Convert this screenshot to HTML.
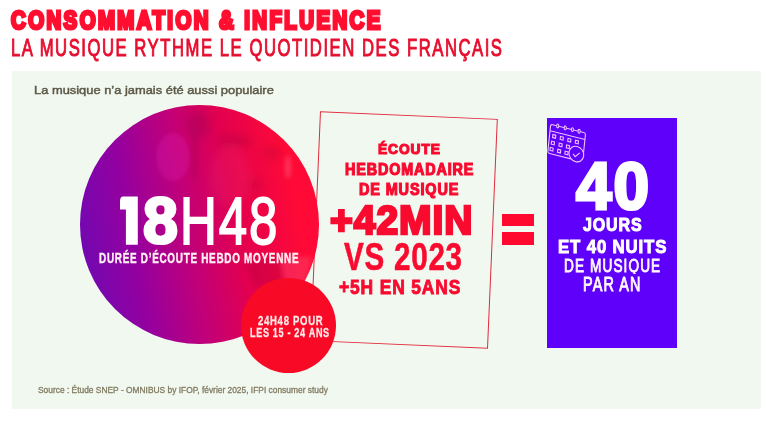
<!DOCTYPE html>
<html><head><meta charset="utf-8">
<style>
html,body{margin:0;padding:0;}
body{width:776px;height:422px;overflow:hidden;background:#fff;position:relative;font-family:"Liberation Sans",sans-serif;}
.t{position:absolute;white-space:nowrap;transform-origin:0 0;font-family:"Liberation Sans",sans-serif;}
#panel{position:absolute;left:11.5px;top:71px;width:749.5px;height:338px;background:#F1F8F0;}
#big{position:absolute;left:80px;top:105px;width:239px;height:239px;border-radius:50%;
 background:linear-gradient(80deg,#6A0AB4 2%,#9400A0 25%,#C0007A 45%,#E20050 63%,#FF0A36 86%);overflow:hidden;}
#small{position:absolute;left:241px;top:278px;width:95px;height:95px;border-radius:50%;background:#F80A26;}
#box{position:absolute;left:314.5px;top:115px;width:178.4px;height:229.7px;border:1.8px solid #E02A3E;box-sizing:border-box;transform:rotate(2.45deg);transform-origin:50% 50%;}
.eq{position:absolute;left:502px;width:32px;background:#FF0A2E;}
#purple{position:absolute;left:547px;top:118px;width:130px;height:230px;background:#5F00FB;}
#cal{position:absolute;left:0;top:0;width:776px;height:422px;}
</style></head><body>
<div id="panel"></div>
<div id="box"></div>
<div id="big"><svg width="239" height="239" style="position:absolute;left:0;top:0">
 <defs>
  <filter id="bl" x="-50%" y="-50%" width="200%" height="200%"><feGaussianBlur stdDeviation="4"/></filter>
  <filter id="bl2" x="-50%" y="-50%" width="200%" height="200%"><feGaussianBlur stdDeviation="2"/></filter>
 </defs>
 <g filter="url(#bl)">
  
  <ellipse cx="118" cy="20" rx="12" ry="14" fill="#6a0040" opacity="0.2"/>
  <ellipse cx="155" cy="36" rx="18" ry="6" fill="#7a0030" opacity="0.22"/>
  <ellipse cx="192" cy="48" rx="10" ry="6" fill="#7a0030" opacity="0.18"/>
  <ellipse cx="175" cy="80" rx="10" ry="8" fill="#8a0030" opacity="0.15"/>
  <ellipse cx="150" cy="72" rx="20" ry="30" fill="#ff80a0" opacity="0.08"/>
 </g>
 <g filter="url(#bl2)">
  <ellipse cx="93" cy="52" rx="17" ry="24" fill="#e020b8" opacity="0.28"/>
  <ellipse cx="114" cy="52" rx="5" ry="24" fill="#700030" opacity="0.12"/>
  <path d="M200 150 L232 152 L226 178 L205 176 Z" fill="#ff8aa8" opacity="0.22"/>
  <path d="M165 160 L200 150 L205 180 L175 182 Z" fill="#6a0030" opacity="0.15"/>
  <ellipse cx="208" cy="62" rx="3" ry="12" fill="#ffb0c8" opacity="0.25"/>
 </g>
</svg></div>
<div id="small"></div>
<div class="eq" style="top:214px;height:12px"></div>
<div class="eq" style="top:232px;height:13px"></div>
<div id="purple"></div>
<svg id="cal" width="776" height="422" viewBox="0 0 776 422">
 <g transform="matrix(0.970,0.242,-0.105,0.995,550.7,124.2)" fill="none" stroke="#F0C4FF" stroke-width="1.1">
  <path d="M2 0 H34 Q36 0 36 2 V20 M2 0 Q0 0 0 2 V27 Q0 29 2 29 H24"/>
  <path d="M0 6.6 H36"/>
  <ellipse cx="7.3" cy="0" rx="1.1" ry="1.9" fill="#5F00FB"/><ellipse cx="15" cy="0" rx="1.1" ry="1.9" fill="#5F00FB"/><ellipse cx="22.4" cy="0" rx="1.1" ry="1.9" fill="#5F00FB"/><ellipse cx="29.3" cy="0" rx="1.1" ry="1.9" fill="#5F00FB"/>
  <rect x="3.3" y="9.6" width="3" height="3"/><rect x="11.1" y="9.6" width="3" height="3"/><rect x="18.9" y="9.6" width="3" height="3"/><rect x="26.7" y="9.6" width="3" height="3"/>
  <rect x="2.7" y="16.4" width="3" height="3"/><rect x="10.6" y="16.4" width="3" height="3"/><rect x="18.2" y="16.4" width="3" height="3"/>
  <rect x="2.0" y="22.8" width="3" height="3"/><rect x="9.8" y="22.8" width="3" height="3"/><rect x="17.4" y="22.8" width="3" height="3"/>
  <circle cx="28.9" cy="23" r="7.6" fill="#5F00FB"/>
  <path d="M25.6 23.6 L27.9 25.8 L32.2 21"/>
 </g>
</svg>
<svg style="position:absolute;left:0;top:0" width="776" height="422"><path fill="#fff" d="M123.2 196.5 H137.8 V244.7 H125.9 V209.6 H120 V201.2 Q120 196.5 123.2 196.5 Z"/></svg>
<div class="t" style="left:11.31px;top:8.19px;font-weight:700;font-size:25.29px;line-height:25.29px;color:#FF0E30;-webkit-text-stroke:3.2px #FF0E30;transform:scaleX(0.8072);letter-spacing:3px">CONSOMMATION &amp; INFLUENCE</div>
<div class="t" style="left:11.30px;top:35.52px;font-weight:400;font-size:23.84px;line-height:23.84px;color:#E60E2E;-webkit-text-stroke:1.0px #E60E2E;transform:scaleX(0.6990);letter-spacing:2.2px">LA MUSIQUE RYTHME LE QUOTIDIEN DES FRANÇAIS</div>
<div class="t" style="left:33.90px;top:83.87px;font-weight:400;font-size:11.70px;line-height:11.70px;color:#5C5846;-webkit-text-stroke:0.45px #5C5846;transform:scaleX(1.1019);">La musique n’a jamais été aussi populaire</div>
<div class="t" style="left:38.00px;top:386.21px;font-weight:400;font-size:8.43px;line-height:8.43px;color:#827C62;-webkit-text-stroke:0.3px #827C62;transform:scaleX(0.9966);">Source : Étude SNEP - OMNIBUS by IFOP, février 2025, IFPI consumer study</div>
<div class="t" style="left:143.04px;top:187.73px;font-weight:700;font-size:65.41px;line-height:65.41px;color:#FFFFFF;-webkit-text-stroke:3.0px #FFFFFF;transform:scaleX(0.9600);">8</div>
<div class="t" style="left:179.70px;top:186.86px;font-weight:400;font-size:67.15px;line-height:67.15px;color:#FFFFFF;-webkit-text-stroke:1.8px #FFFFFF;transform:scaleX(0.7595);letter-spacing:2.5px">H48</div>
<div class="t" style="left:99.29px;top:251.99px;font-weight:700;font-size:13.95px;line-height:13.95px;color:#FFF0F4;-webkit-text-stroke:0.4px #FFF0F4;transform:scaleX(0.7122);letter-spacing:1px">DURÉE D’ÉCOUTE HEBDO MOYENNE</div>
<div class="t" style="left:257.60px;top:313.53px;font-weight:700;font-size:13.37px;line-height:13.37px;color:#FFEAEA;-webkit-text-stroke:0.3px #FFEAEA;transform:scaleX(0.7133);letter-spacing:1px">24H48 POUR</div>
<div class="t" style="left:249.83px;top:325.68px;font-weight:700;font-size:13.66px;line-height:13.66px;color:#FFEAEA;-webkit-text-stroke:0.3px #FFEAEA;transform:scaleX(0.6653);letter-spacing:1px">LES 15 - 24 ANS</div>
<div class="t" style="left:378.40px;top:142.25px;font-weight:700;font-size:14.83px;line-height:14.83px;color:#F80B2F;-webkit-text-stroke:1.2px #F80B2F;transform:scaleX(0.9284);letter-spacing:1px">ÉCOUTE</div>
<div class="t" style="left:344.92px;top:161.42px;font-weight:700;font-size:16.28px;line-height:16.28px;color:#F80B2F;-webkit-text-stroke:1.2px #F80B2F;transform:scaleX(0.8814);letter-spacing:1px">HEBDOMADAIRE</div>
<div class="t" style="left:359.33px;top:181.57px;font-weight:700;font-size:16.57px;line-height:16.57px;color:#F80B2F;-webkit-text-stroke:1.2px #F80B2F;transform:scaleX(0.8726);letter-spacing:1px">DE MUSIQUE</div>
<div class="t" style="left:330.00px;top:199.76px;font-weight:700;font-size:41.28px;line-height:41.28px;color:#F80B2F;-webkit-text-stroke:2.6px #F80B2F;transform:scaleX(0.9463);letter-spacing:1px">+42MIN</div>
<div class="t" style="left:343.60px;top:237.63px;font-weight:700;font-size:38.95px;line-height:38.95px;color:#F80B2F;-webkit-text-stroke:0.6px #F80B2F;transform:scaleX(0.7597);letter-spacing:1px">VS 2023</div>
<div class="t" style="left:338.70px;top:276.82px;font-weight:700;font-size:20.35px;line-height:20.35px;color:#F80B2F;-webkit-text-stroke:0.9px #F80B2F;transform:scaleX(0.8560);letter-spacing:1px">+5H EN 5ANS</div>
<div class="t" style="left:575.96px;top:152.85px;font-weight:700;font-size:66.57px;line-height:66.57px;color:#FFFFFF;-webkit-text-stroke:3.2px #FFFFFF;transform:scaleX(0.9605);letter-spacing:2px">40</div>
<div class="t" style="left:583.10px;top:215.92px;font-weight:700;font-size:18.17px;line-height:18.17px;color:#FFFFFF;-webkit-text-stroke:1.0px #FFFFFF;transform:scaleX(0.8818);letter-spacing:1px">JOURS</div>
<div class="t" style="left:557.73px;top:236.86px;font-weight:700;font-size:19.19px;line-height:19.19px;color:#FFFFFF;-webkit-text-stroke:1.0px #FFFFFF;transform:scaleX(0.8732);letter-spacing:1px">ET 40 NUITS</div>
<div class="t" style="left:563.88px;top:257.46px;font-weight:400;font-size:18.90px;line-height:18.90px;color:#FFF6FF;-webkit-text-stroke:0.9px #FFF6FF;transform:scaleX(0.7227);letter-spacing:1.5px;height:16.6px;overflow:hidden">DE MUSIQUE</div>
<div class="t" style="left:583.05px;top:275.19px;font-weight:400;font-size:19.33px;line-height:19.33px;color:#FFF6FF;-webkit-text-stroke:0.9px #FFF6FF;transform:scaleX(0.7453);letter-spacing:1.5px">PAR AN</div>
</body></html>
